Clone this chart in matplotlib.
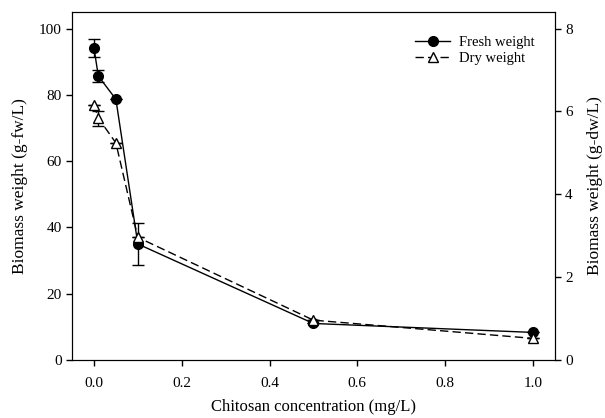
import matplotlib.pyplot as plt
from matplotlib.lines import Line2D

plt.rcParams['font.family'] = ['Liberation Serif', 'DejaVu Serif']

# chitosan concentration (mg/L)
conc = [0.0, 0.01, 0.05, 0.1, 0.5, 1.0]

# fresh weight, left axis (g-fw/L)
fresh = [94.2, 85.7, 78.7, 35.0, 11.0, 8.3]
fresh_err = [2.8, 1.7, 0.0, 6.3, 0.0, 0.0]

# dry weight, right axis (g-dw/L)
dry = [6.16, 5.84, 5.24, 2.96, 0.96, 0.52]
dry_err = [0.0, 0.18, 0.0, 0.0, 0.0, 0.0]

fig = plt.figure(figsize=(6.05, 4.18), dpi=100)
ax = fig.add_axes([0.119, 0.139, 0.798, 0.832])
ax2 = ax.twinx()

dash = (0, (6, 3))
ax.errorbar(conc, fresh, yerr=fresh_err, color='black', marker='o',
            markersize=7, linestyle='-', linewidth=1.0, capsize=4,
            elinewidth=1.0)
ax2.errorbar(conc, dry, yerr=dry_err, color='black', marker='^',
             markersize=7, markerfacecolor='white', linestyle=dash,
             linewidth=1.0, capsize=4, elinewidth=1.0)

ax.set_xlim(-0.05, 1.05)
ax.set_ylim(0, 105)
ax2.set_ylim(0, 8.4)
ax.set_xticks([0.0, 0.2, 0.4, 0.6, 0.8, 1.0])
ax.set_yticks([0, 20, 40, 60, 80, 100])
ax2.set_yticks([0, 2, 4, 6, 8])

for a in (ax, ax2):
    a.tick_params(direction='out', length=4, width=1, labelsize=11)
ax.tick_params(axis='x', pad=8)

ax.set_xlabel('Chitosan concentration (mg/L)', fontsize=12, labelpad=7)
ax.set_ylabel('Biomass weight (g-fw/L)', fontsize=12.5, labelpad=8)
ax2.set_ylabel('Biomass weight (g-dw/L)', fontsize=12.5, labelpad=10)

handles = [
    Line2D([], [], color='black', marker='o', markersize=7, linewidth=1.0),
    Line2D([], [], color='black', marker='^', markersize=7,
           markerfacecolor='white', linestyle=dash, linewidth=1.0),
]
ax.legend(handles, ['Fresh weight', 'Dry weight'], loc='upper right',
          bbox_to_anchor=(0.985, 0.97), frameon=False, fontsize=10.5,
          handlelength=2.4, handletextpad=0.6, labelspacing=0.2)

fig.savefig('out.png', dpi=100)
